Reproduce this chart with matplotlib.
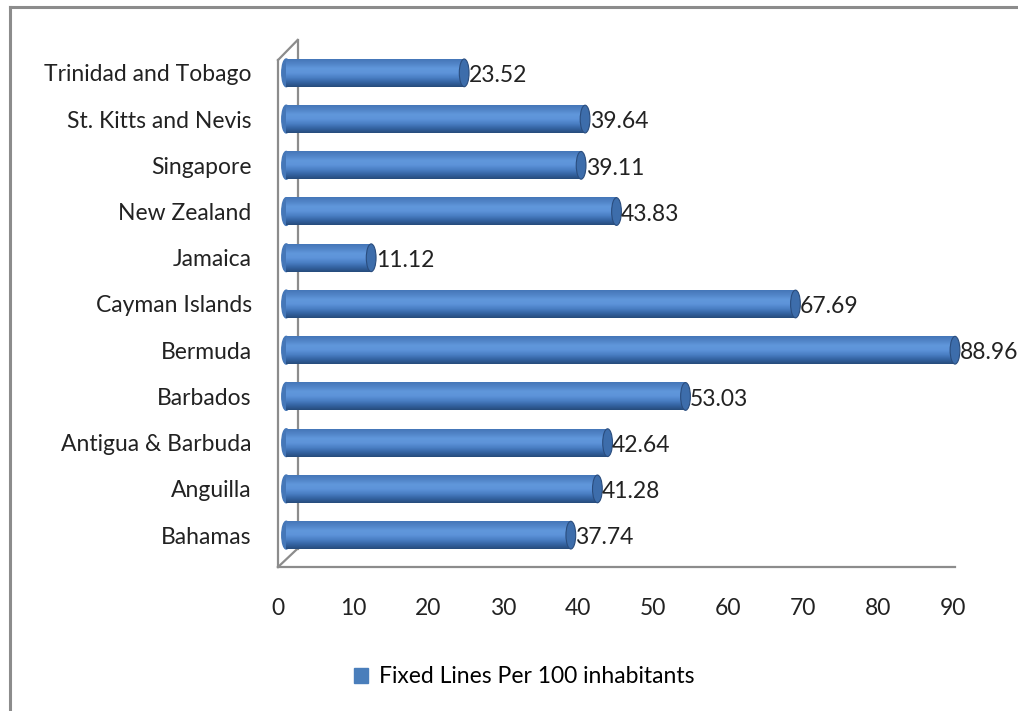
import matplotlib
matplotlib.use("Agg")
import matplotlib.pyplot as plt
import numpy as np
from matplotlib.colors import LinearSegmentedColormap
from matplotlib.patches import Ellipse, Patch
from matplotlib.lines import Line2D

countries = [
    "Bahamas", "Anguilla", "Antigua & Barbuda", "Barbados", "Bermuda",
    "Cayman Islands", "Jamaica", "New Zealand", "Singapore",
    "St. Kitts and Nevis", "Trinidad and Tobago",
]
fixed_lines = [37.74, 41.28, 42.64, 53.03, 88.96, 67.69, 11.12, 43.83, 39.11, 39.64, 23.52]
x_ticks = [0, 10, 20, 30, 40, 50, 60, 70, 80, 90]
legend_label = "Fixed Lines Per 100 inhabitants"

plt.rcParams["font.family"] = ["Lato", "DejaVu Sans"]
FS = 16.5
BLUE = "#4a7ebb"

# vertical shading of the cylinders (bottom -> top)
cyl = LinearSegmentedColormap.from_list(
    "cyl", ["#274c7c", "#3564a3", "#4a7fc4", "#5d93d9", "#6097db", "#5285c8", "#4577b8"])
grad = np.linspace(0, 1, 64).reshape(-1, 1)

fig = plt.figure(figsize=(10.18, 7.11), dpi=100)
ax = fig.add_axes([0.2731, 0.2025, 0.6631, 0.7412])

ypos = list(range(len(countries)))
h = 0.6
start = 1.1   # bars sit a little behind the front plane
depth = 1.3

for y, v in zip(ypos, fixed_lines):
    x1 = v + depth
    ax.add_patch(Ellipse((start, y), 1.2, h, color="#4577b8", zorder=2))
    im = ax.imshow(grad, cmap=cyl, origin="lower", aspect="auto",
                   extent=(start, x1, y - h / 2, y + h / 2), zorder=3,
                   interpolation="bilinear")
    im.set_clip_on(False)
    ax.add_patch(Ellipse((x1, y), 1.3, h, facecolor="#3d6dab", edgecolor="#2a4d7e",
                         lw=0.8, zorder=5, clip_on=False))
    ax.text(x1 + 0.6, y - 0.06, f"{v:.2f}", fontsize=FS, va="center", ha="left",
            color="#222222", zorder=6)

ax.set_xlim(0, 90)
ax.set_ylim(-0.69, 10.71)
ax.set_xticks(x_ticks)
ax.set_xticklabels([str(t) for t in x_ticks])
ax.set_yticks(ypos)
ax.set_yticklabels(countries)
ax.tick_params(axis="x", length=0, pad=22, labelsize=FS, colors="#222222")
ax.tick_params(axis="y", length=0, pad=19, labelsize=FS, colors="#222222")
for s in ax.spines.values():
    s.set_visible(False)

# 3D walls: front edge, back wall, floor
wall = dict(color="#8c8c8c", lw=1.6, transform=ax.transAxes, clip_on=False, zorder=1)
dx, dy = 0.029, 0.035
ax.add_line(Line2D([0, 0], [0, 0.962], **wall))
ax.add_line(Line2D([0, dx], [0.962, 1.0], **wall))
ax.add_line(Line2D([dx, dx], [dy, 1.0], **wall))
ax.add_line(Line2D([0, dx], [0, dy], **wall))
ax.add_line(Line2D([0, 1.003], [0, 0], **wall))

# outer chart border (left and top)
fig.add_artist(Line2D([0.0098, 0.0098], [0, 0.990], color="#8c8c8c", lw=2.2))
fig.add_artist(Line2D([0.0098, 1.0], [0.990, 0.990], color="#8c8c8c", lw=2.2))

fig.legend(handles=[Patch(color=BLUE, label=legend_label)], loc="center",
           bbox_to_anchor=(0.515, 0.048), frameon=False, fontsize=FS,
           handlelength=0.6, handleheight=0.6, handletextpad=0.5)

fig.savefig("out.png", dpi=100, facecolor="white")
